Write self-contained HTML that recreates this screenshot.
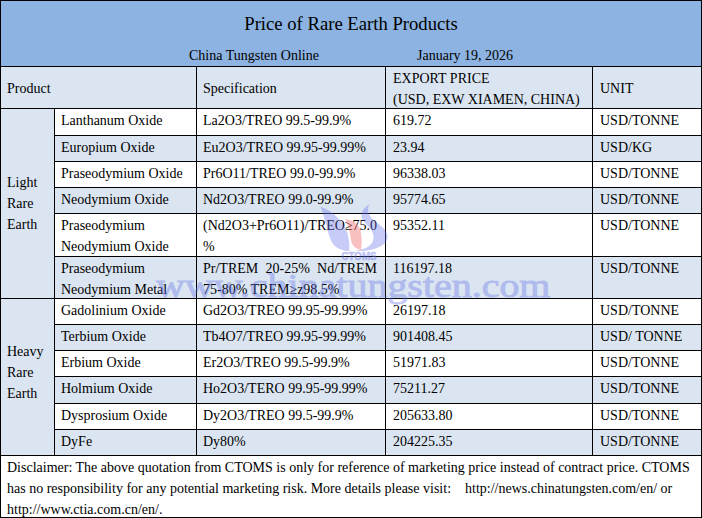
<!DOCTYPE html>
<html><head><meta charset="utf-8"><style>
html,body{margin:0;padding:0;width:702px;height:518px;overflow:hidden;background:#fff}
body{position:relative;font-family:"Liberation Serif",serif;color:#000}
div{position:absolute}
.t{position:absolute;font-size:14px;line-height:21px;white-space:nowrap}
.wm{position:absolute;font-family:"Liberation Serif",serif;color:rgb(100,112,232);white-space:nowrap}
</style></head><body>
<div style="left:0px;top:0px;width:702px;height:66px;background:#8db3e2"></div>
<div style="left:0px;top:66px;width:702px;height:42px;background:#dbe5f1"></div>
<div style="left:0px;top:108px;width:54px;height:347px;background:#dbe5f1"></div>
<div style="left:54px;top:135px;width:648px;height:26px;background:#dbe5f1"></div>
<div style="left:54px;top:187px;width:648px;height:26px;background:#dbe5f1"></div>
<div style="left:54px;top:256px;width:648px;height:42px;background:#dbe5f1"></div>
<div style="left:54px;top:324px;width:648px;height:26px;background:#dbe5f1"></div>
<div style="left:54px;top:376px;width:648px;height:27px;background:#dbe5f1"></div>
<div style="left:54px;top:429px;width:648px;height:26px;background:#dbe5f1"></div>
<div style="left:0px;top:0px;width:702px;height:1px;background:#000"></div>
<div style="left:0px;top:517px;width:702px;height:1px;background:#000"></div>
<div style="left:0px;top:0px;width:1px;height:518px;background:#000"></div>
<div style="left:701px;top:0px;width:1px;height:518px;background:#000"></div>
<div style="left:0px;top:66px;width:702px;height:1px;background:#000"></div>
<div style="left:0px;top:108px;width:702px;height:1px;background:#000"></div>
<div style="left:0px;top:298px;width:702px;height:1px;background:#000"></div>
<div style="left:0px;top:455px;width:702px;height:1px;background:#000"></div>
<div style="left:54px;top:135px;width:648px;height:1px;background:#000"></div>
<div style="left:54px;top:161px;width:648px;height:1px;background:#000"></div>
<div style="left:54px;top:187px;width:648px;height:1px;background:#000"></div>
<div style="left:54px;top:213px;width:648px;height:1px;background:#000"></div>
<div style="left:54px;top:256px;width:648px;height:1px;background:#000"></div>
<div style="left:54px;top:298px;width:648px;height:1px;background:#000"></div>
<div style="left:54px;top:324px;width:648px;height:1px;background:#000"></div>
<div style="left:54px;top:350px;width:648px;height:1px;background:#000"></div>
<div style="left:54px;top:376px;width:648px;height:1px;background:#000"></div>
<div style="left:54px;top:403px;width:648px;height:1px;background:#000"></div>
<div style="left:54px;top:429px;width:648px;height:1px;background:#000"></div>
<div style="left:54px;top:108px;width:1px;height:347px;background:#000"></div>
<div style="left:196px;top:66px;width:1px;height:389px;background:#000"></div>
<div style="left:385px;top:66px;width:1px;height:389px;background:#000"></div>
<div style="left:592px;top:66px;width:1px;height:389px;background:#000"></div>
<span class="t" style="left:0;width:702px;text-align:center;top:10px;font-size:18.67px;line-height:28px">Price of Rare Earth Products</span>
<span class="t" style="left:189px;top:45px;">China Tungsten Online</span>
<span class="t" style="left:417px;top:45px;">January 19, 2026</span>
<span class="t" style="left:7px;top:78px;">Product</span>
<span class="t" style="left:203px;top:78px;">Specification</span>
<span class="t" style="left:393px;top:68px;">EXPORT PRICE<br>(USD, EXW XIAMEN, CHINA)</span>
<span class="t" style="left:600px;top:78px;">UNIT</span>
<span class="t" style="left:61px;top:110px;">Lanthanum Oxide</span>
<span class="t" style="left:203px;top:110px;">La2O3/TREO 99.5-99.9%</span>
<span class="t" style="left:393px;top:110px;">619.72</span>
<span class="t" style="left:600px;top:110px;">USD/TONNE</span>
<span class="t" style="left:61px;top:137px;">Europium Oxide</span>
<span class="t" style="left:203px;top:137px;">Eu2O3/TREO 99.95-99.99%</span>
<span class="t" style="left:393px;top:137px;">23.94</span>
<span class="t" style="left:600px;top:137px;">USD/KG</span>
<span class="t" style="left:61px;top:163px;">Praseodymium Oxide</span>
<span class="t" style="left:203px;top:163px;">Pr6O11/TREO 99.0-99.9%</span>
<span class="t" style="left:393px;top:163px;">96338.03</span>
<span class="t" style="left:600px;top:163px;">USD/TONNE</span>
<span class="t" style="left:61px;top:189px;">Neodymium Oxide</span>
<span class="t" style="left:203px;top:189px;">Nd2O3/TREO 99.0-99.9%</span>
<span class="t" style="left:393px;top:189px;">95774.65</span>
<span class="t" style="left:600px;top:189px;">USD/TONNE</span>
<span class="t" style="left:61px;top:215px;">Praseodymium<br>Neodymium Oxide</span>
<span class="t" style="left:203px;top:215px;">(Nd2O3+Pr6O11)/TREO≥75.0<br>%</span>
<span class="t" style="left:393px;top:215px;">95352.11</span>
<span class="t" style="left:600px;top:215px;">USD/TONNE</span>
<span class="t" style="left:61px;top:258px;">Praseodymium<br>Neodymium Metal</span>
<span class="t" style="left:203px;top:258px;"><span style="display:inline-block;width:174px;text-align:justify;text-align-last:justify">Pr/TREM&nbsp; 20-25%&nbsp; Nd/TREM</span><br>75-80% TREM≥z98.5%</span>
<span class="t" style="left:393px;top:258px;">116197.18</span>
<span class="t" style="left:600px;top:258px;">USD/TONNE</span>
<span class="t" style="left:61px;top:300px;">Gadolinium Oxide</span>
<span class="t" style="left:203px;top:300px;">Gd2O3/TREO 99.95-99.99%</span>
<span class="t" style="left:393px;top:300px;">26197.18</span>
<span class="t" style="left:600px;top:300px;">USD/TONNE</span>
<span class="t" style="left:61px;top:326px;">Terbium Oxide</span>
<span class="t" style="left:203px;top:326px;">Tb4O7/TREO 99.95-99.99%</span>
<span class="t" style="left:393px;top:326px;">901408.45</span>
<span class="t" style="left:600px;top:326px;">USD/ TONNE</span>
<span class="t" style="left:61px;top:352px;">Erbium Oxide</span>
<span class="t" style="left:203px;top:352px;">Er2O3/TREO 99.5-99.9%</span>
<span class="t" style="left:393px;top:352px;">51971.83</span>
<span class="t" style="left:600px;top:352px;">USD/TONNE</span>
<span class="t" style="left:61px;top:378px;">Holmium Oxide</span>
<span class="t" style="left:203px;top:378px;">Ho2O3/TERO 99.95-99.99%</span>
<span class="t" style="left:393px;top:378px;">75211.27</span>
<span class="t" style="left:600px;top:378px;">USD/TONNE</span>
<span class="t" style="left:61px;top:405px;">Dysprosium Oxide</span>
<span class="t" style="left:203px;top:405px;">Dy2O3/TREO 99.5-99.9%</span>
<span class="t" style="left:393px;top:405px;">205633.80</span>
<span class="t" style="left:600px;top:405px;">USD/TONNE</span>
<span class="t" style="left:61px;top:431px;">DyFe</span>
<span class="t" style="left:203px;top:431px;">Dy80%</span>
<span class="t" style="left:393px;top:431px;">204225.35</span>
<span class="t" style="left:600px;top:431px;">USD/TONNE</span>
<span class="t" style="left:7px;top:172px;">Light<br>Rare<br>Earth</span>
<span class="t" style="left:7px;top:341px;">Heavy<br>Rare<br>Earth</span>
<span class="t" style="left:7px;top:457px;">Disclaimer: The above quotation from CTOMS is only for reference of marketing price instead of contract price. CTOMS<br>has no responsibility for any potential marketing risk. More details please visit: &nbsp;&nbsp; http://news.chinatungsten.com/en/ or<br>http://www.ctia.com.cn/en/.</span>
<span class="wm" style="left:156px;top:266px;font-size:33px;line-height:40px;transform-origin:0 0;transform:scaleX(1.21);-webkit-text-stroke:0.9px rgb(100,112,232);opacity:0.36">www.chinatungsten.com</span>
<svg width="702" height="518" style="position:absolute;left:0;top:0">
<path d="M320.5,206.5 C337,213 347,226 348.5,238 C349.5,244 349.5,248 349,251 C340,250.5 333,247 330,238 C327,229 324,216 320.5,206.5 Z" fill="rgba(100,112,232,0.36)"/>
<path d="M369.5,204 C361,210 358,216 366,224 C372,230 376,236 372,243 C368,248 362,250 354.5,250.8 C366,252 380,249 386,242 C391,234 384,228 376,222 C369,217 366,210 369.5,204 Z" fill="rgba(100,112,232,0.36)"/>
<path d="M345,219.5 C352,219 358,223 360.5,230 C362,237 362,244 361,250 C356,249 352,246 351,240 C350,233 349,226 345,219.5 Z" fill="rgba(240,90,90,0.38)"/>
<text x="341.5" y="259.5" font-family="Liberation Sans" font-weight="bold" font-size="10" fill="rgb(100,112,232)" stroke="rgb(100,112,232)" stroke-width="0.5" opacity="0.42" textLength="35" lengthAdjust="spacingAndGlyphs">CTOMS</text>
</svg>
</body></html>
